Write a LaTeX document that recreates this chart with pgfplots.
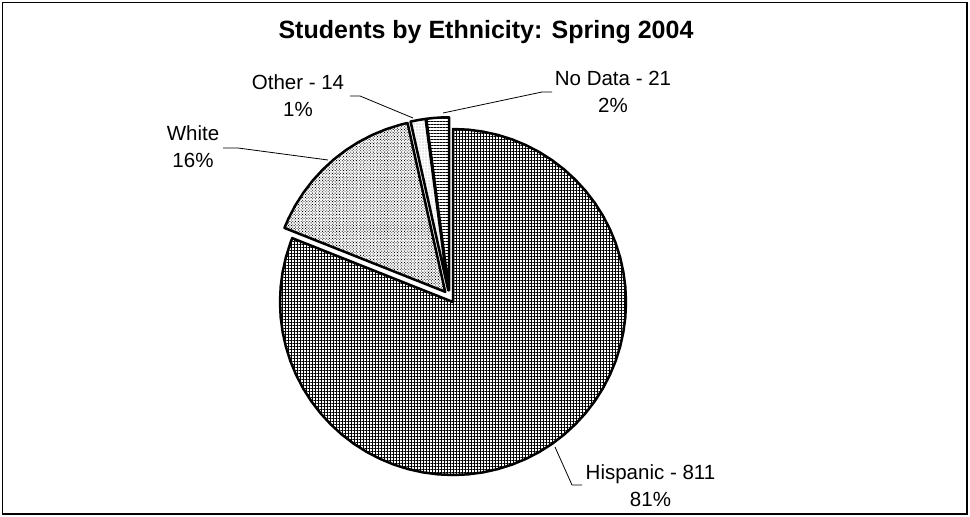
\documentclass[border=0pt]{standalone}
\usepackage{fontspec}
\setmainfont{Liberation Sans}
\usepackage{pgfplots}
\pgfplotsset{compat=1.18}
\usetikzlibrary{patterns.meta}
% Values: Hispanic 811 (81%), White 155 (16%), Other 14 (1%), No Data 21 (2%); total 1001
% Wedge boundary angles (deg, clockwise from 12 o'clock): 90 | -201.67 (=158.33) | 102.59 | 97.55 | 90
\begin{document}
\begin{tikzpicture}
\begin{axis}[
  at={(0,0)}, anchor=south west,
  scale only axis, width=970bp, height=517bp,
  xmin=0, xmax=970, ymin=0, ymax=517, y dir=reverse,
  hide axis, clip=false,
  every axis plot/.append style={line join=round},
]
% frame
\draw[line width=1.2bp, black] (axis cs:2.5,2.5) rectangle (axis cs:967,514);
% Hispanic
\addplot[draw=black, line width=2.5bp, pattern={Hatch[angle=0,distance=3bp,line width=0.8bp]}, pattern color=black]
 table[row sep=\\, x expr={453+173*\thisrow{r}*cos(\thisrow{a})}, y expr={302-173*\thisrow{r}*sin(\thisrow{a})}]
 {a r\\ 0 0\\ 90 1\\ 85 1\\ 80 1\\ 75 1\\ 70 1\\ 65 1\\ 60 1\\ 55 1\\ 50 1\\ 45 1\\ 40 1\\ 35 1\\ 30 1\\ 25 1\\ 20 1\\ 15 1\\ 10 1\\ 5 1\\ 0 1\\
 -5 1\\ -10 1\\ -15 1\\ -20 1\\ -25 1\\ -30 1\\ -35 1\\ -40 1\\ -45 1\\ -50 1\\ -55 1\\ -60 1\\ -65 1\\ -70 1\\ -75 1\\ -80 1\\ -85 1\\ -90 1\\
 -95 1\\ -100 1\\ -105 1\\ -110 1\\ -115 1\\ -120 1\\ -125 1\\ -130 1\\ -135 1\\ -140 1\\ -145 1\\ -150 1\\ -155 1\\ -160 1\\ -165 1\\ -170 1\\
 -175 1\\ -180 1\\ -185 1\\ -190 1\\ -195 1\\ -200 1\\ -201.67 1\\} -- cycle;
% White
\addplot[draw=black, line width=2.5bp, pattern={Dots[distance=2bp,radius=0.6bp,angle=45]}, pattern color=black]
 table[row sep=\\, x expr={445.2+173*\thisrow{r}*cos(\thisrow{a})}, y expr={291.8-173*\thisrow{r}*sin(\thisrow{a})}]
 {a r\\ 0 0\\ 158.33 1\\ 155 1\\ 150 1\\ 145 1\\ 140 1\\ 135 1\\ 130 1\\ 125 1\\ 120 1\\ 115 1\\ 110 1\\ 105 1\\ 102.59 1\\} -- cycle;
% Other
\addplot[draw=black, line width=2.5bp, pattern={Dots[distance=3bp,radius=0.4bp]}, pattern color=black]
 table[row sep=\\, x expr={448.3+173*\thisrow{r}*cos(\thisrow{a})}, y expr={290.4-173*\thisrow{r}*sin(\thisrow{a})}]
 {a r\\ 0 0\\ 102.59 1\\ 100 1\\ 97.55 1\\} -- cycle;
% No Data
\addplot[draw=black, line width=2.5bp, pattern={Lines[angle=0,distance=3bp,line width=0.8bp]}, pattern color=black]
 table[row sep=\\, x expr={449.0+173*\thisrow{r}*cos(\thisrow{a})}, y expr={290.3-173*\thisrow{r}*sin(\thisrow{a})}]
 {a r\\ 0 0\\ 97.55 1\\ 95 1\\ 92.5 1\\ 90 1\\} -- cycle;
% leader lines
\addplot[black, line width=0.8bp, mark=none] coordinates {(555,447) (572,485) (582,485)};
\addplot[black, line width=0.8bp, mark=none] coordinates {(223,148) (238,148) (328,160)};
\addplot[black, line width=0.8bp, mark=none] coordinates {(350,96) (360,96) (413,118)};
\addplot[black, line width=0.8bp, mark=none] coordinates {(443,113) (542,92) (552,92)};
% title and labels
\node[font=\fontsize{25bp}{30bp}\selectfont\bfseries, anchor=base] at (axis cs:486,38.3) {Students by Ethnicity: Spring 2004};
\node[font=\fontsize{20.5bp}{27bp}\selectfont, align=center] at (axis cs:650.5,485.5) {Hispanic - 811\\81\%};
\node[font=\fontsize{20.5bp}{27bp}\selectfont, align=center] at (axis cs:193,147) {White\\16\%};
\node[font=\fontsize{20.5bp}{27bp}\selectfont, align=center] at (axis cs:298,96) {Other - 14\\1\%};
\node[font=\fontsize{20.5bp}{27bp}\selectfont, align=center] at (axis cs:613,92) {No Data - 21\\2\%};
\end{axis}
\pgfresetboundingbox
\path (0,0) rectangle (970bp,517bp);
\end{tikzpicture}
\end{document}
